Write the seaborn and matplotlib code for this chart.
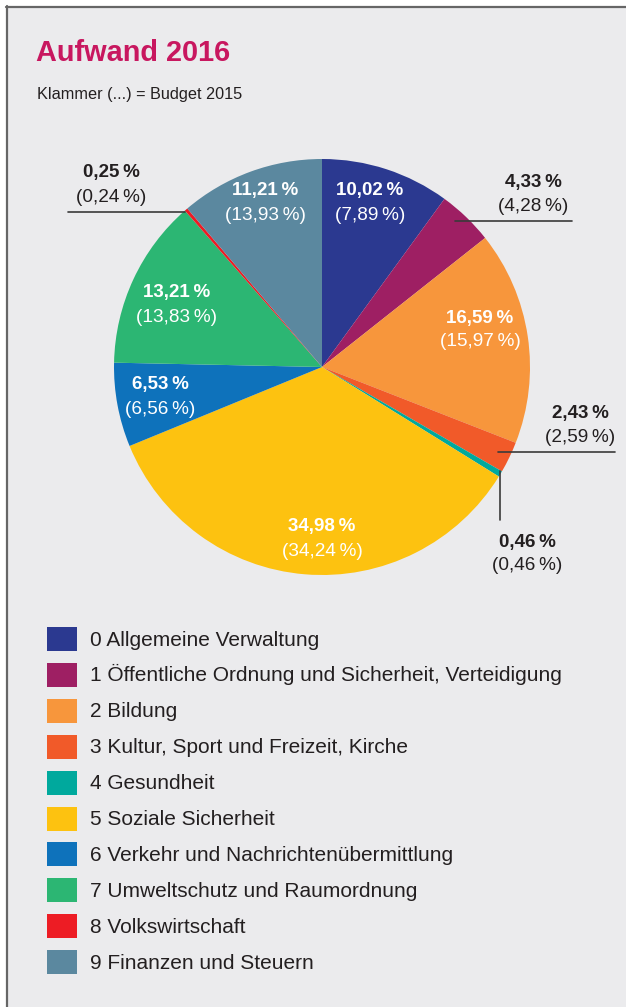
import matplotlib
matplotlib.use("Agg")
import matplotlib.pyplot as plt
import seaborn as sns
from matplotlib.patches import Rectangle
from matplotlib.lines import Line2D

# ---------------- data ----------------
categories = [
    "0 Allgemeine Verwaltung",
    "1 Öffentliche Ordnung und Sicherheit, Verteidigung",
    "2 Bildung",
    "3 Kultur, Sport und Freizeit, Kirche",
    "4 Gesundheit",
    "5 Soziale Sicherheit",
    "6 Verkehr und Nachrichtenübermittlung",
    "7 Umweltschutz und Raumordnung",
    "8 Volkswirtschaft",
    "9 Finanzen und Steuern",
]
values_2016 = [10.02, 4.33, 16.59, 2.43, 0.46, 34.98, 6.53, 13.21, 0.25, 11.21]
values_2015 = [7.89, 4.28, 15.97, 2.59, 0.46, 34.24, 6.56, 13.83, 0.24, 13.93]
colors = ["#2b3990", "#9e1f63", "#f7963c", "#f15a29", "#00a99d",
          "#fdc210", "#0e72bb", "#2cb673", "#ed1c24", "#5b889f"]

title = "Aufwand 2016"
subtitle = "Klammer (...) = Budget 2015"

# ---------------- layout (pixels) ----------------
W, H = 626, 1007
CX, CY, R = 322, 367, 208
label_pos = [(370, 191), (533, 183), (480, 318), (580, 413), (527, 542),
             (322, 527), (160, 385), (177, 293), (111, 173), (265, 191)]
label_inside = [True, False, True, False, False, True, True, True, False, True]
leaders = [
    None,
    [(455, 221), (572, 221)],
    None,
    [(498, 452), (615, 452)],
    [(500, 471), (500, 520)],
    None, None, None,
    [(68, 212), (185, 212)],
    None,
]
LEG_X, LEG_Y0, LEG_DY = 47, 639, 35.9

sns.set_theme(style="white")
FONT = ["Liberation Sans", "DejaVu Sans"]
plt.rcParams["font.family"] = FONT

BG = "#ebebed"
TXT = "#231f20"
fig = plt.figure(figsize=(W / 100, H / 100), dpi=100, facecolor="white")

fig.patches.append(Rectangle((7 / W, 0), 1, 1 - 7 / H, transform=fig.transFigure,
                             facecolor=BG, edgecolor="none", zorder=-10))
fig.lines.append(Line2D([6 / W, 1], [1 - 6.5 / H, 1 - 6.5 / H], transform=fig.transFigure,
                        color="#666666", lw=1.6))
fig.lines.append(Line2D([6.5 / W, 6.5 / W], [0, 1 - 6 / H], transform=fig.transFigure,
                        color="#666666", lw=1.6))

def fx(px):
    return px / W

def fy(py):
    return 1 - py / H

fig.text(fx(36), fy(53), title, fontsize=20.8, fontweight="bold", color="#c8175f",
         va="center", ha="left")
fig.text(fx(37), fy(95), subtitle, fontsize=11.7, color=TXT, va="center", ha="left")

# pie
ax = fig.add_axes([fx(CX - R), fy(CY + R), 2 * R / W, 2 * R / H])
ax.set_facecolor("none")
wedges, _ = ax.pie(values_2016, colors=colors, startangle=90, counterclock=False,
                   radius=1, wedgeprops=dict(linewidth=0, antialiased=True))
ax.set_xlim(-1, 1)
ax.set_ylim(-1, 1)
ax.set_aspect("equal")
ax.axis("off")

def fmt(v):
    return f"{v:.2f}".replace(".", ",") + "\u2009%"

for i in range(len(values_2016)):
    x, y = label_pos[i]
    col = "white" if label_inside[i] else TXT
    fig.text(fx(x), fy(y), fmt(values_2016[i]), fontsize=13.5, fontweight="bold",
             color=col, ha="center", va="center")
    fig.text(fx(x), fy(y + 24), "(" + fmt(values_2015[i]) + ")", fontsize=13.7,
             color=col, ha="center", va="center")
    if leaders[i] is not None:
        (x0, y0), (x1, y1) = leaders[i]
        fig.lines.append(Line2D([fx(x0), fx(x1)], [fy(y0), fy(y1)],
                                transform=fig.transFigure, color="#3a3a3a", lw=1.2))

# legend (drawn from the category / colour lists)
for i, (cat, c) in enumerate(zip(categories, colors)):
    yc = LEG_Y0 + i * LEG_DY
    fig.patches.append(Rectangle((fx(LEG_X), fy(yc + 12)), 30 / W, 24 / H,
                                 transform=fig.transFigure, facecolor=c,
                                 edgecolor="none"))
    fig.text(fx(90), fy(yc + 6.5), cat, fontsize=15, color=TXT, ha="left",
             va="baseline")

fig.savefig("out.png", dpi=100, facecolor="white")
